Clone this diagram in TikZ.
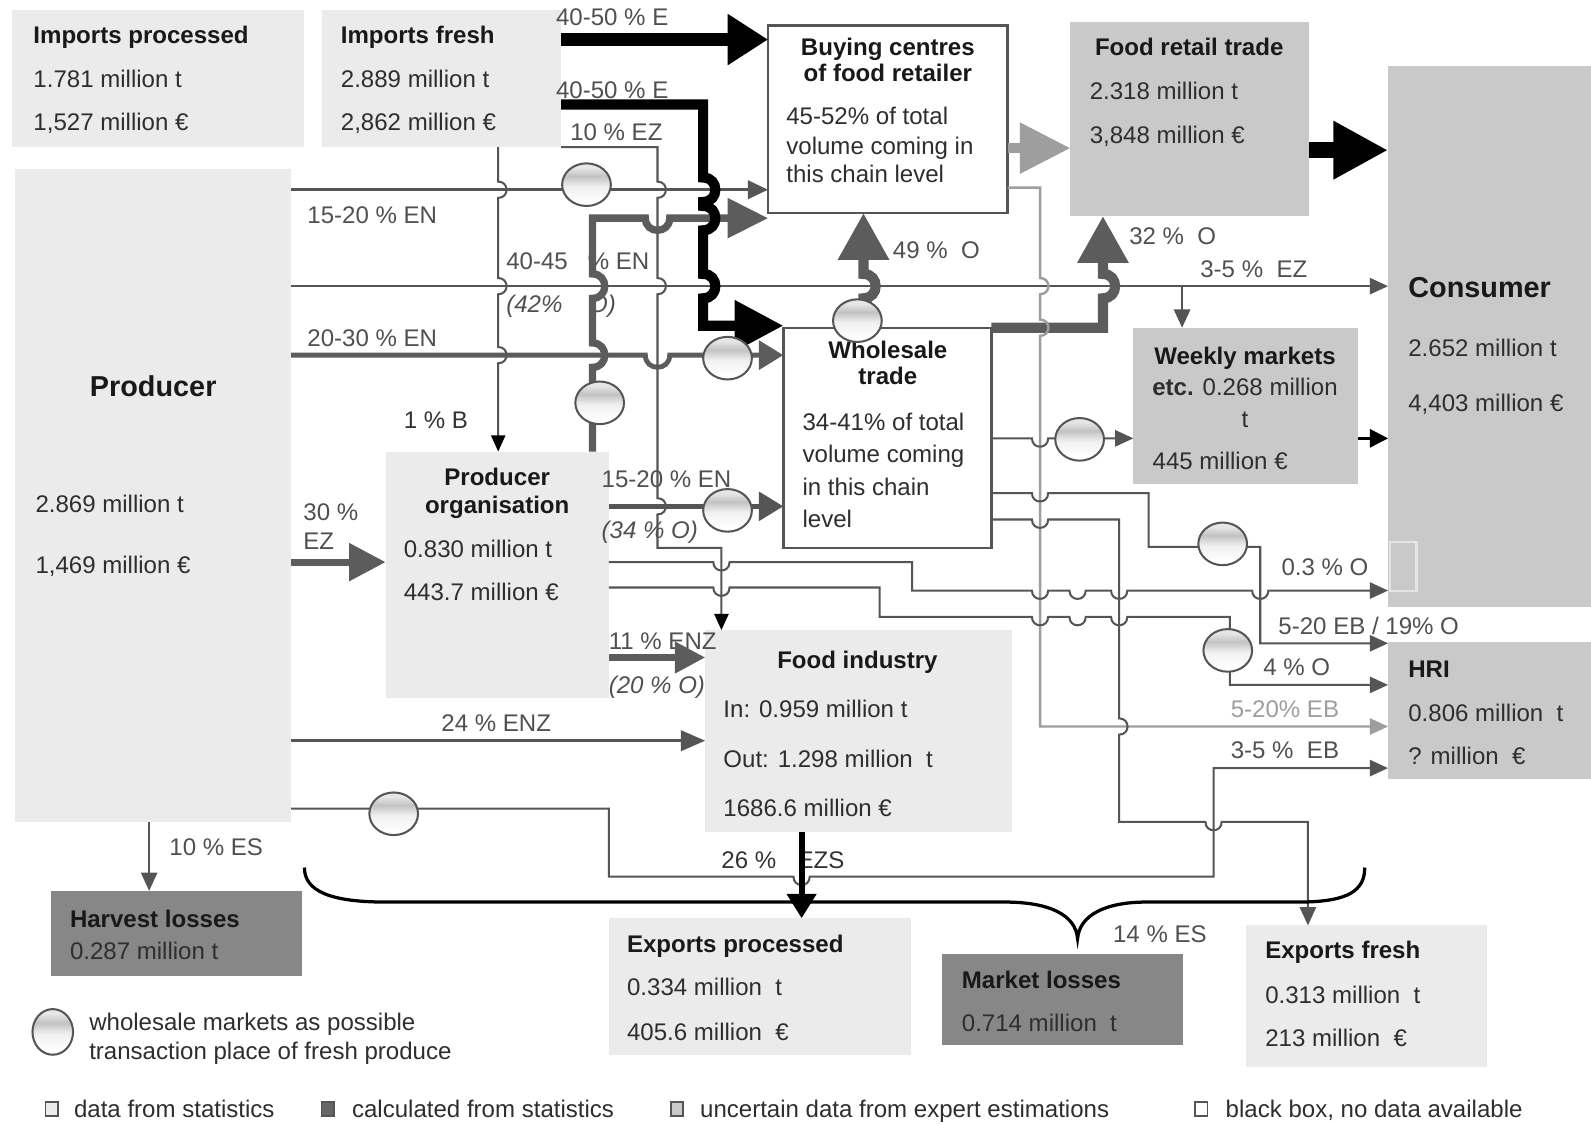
\documentclass[tikz,border=0pt]{standalone}
\usepackage{fontspec}
\setmainfont{Liberation Sans}
\usetikzlibrary{arrows.meta,shapes.geometric}
\definecolor{cLight}{HTML}{EBEBEB}
\definecolor{cMed}{HTML}{C9C9C9}
\definecolor{cDark}{HTML}{878787}
\definecolor{cLine}{HTML}{555555}
\definecolor{cGray}{HTML}{5C5C5C}
\definecolor{cPale}{HTML}{9E9E9E}
\definecolor{cTxt}{HTML}{2E2E2E}
\definecolor{cLab}{HTML}{505050}
\pgfdeclareverticalshading{mktshade}{100bp}{color(0bp)=(white); color(30bp)=(white); color(48bp)=(black!6); color(60bp)=(black!24); color(70bp)=(black!10); color(100bp)=(black!6)}
\newcommand{\fsn}{\fontsize{11.85}{14}\selectfont}
\newcommand{\fsl}{\fontsize{14.2}{17}\selectfont\bfseries}
\begin{document}
\begin{tikzpicture}[x=0.5pt,y=-0.5pt, line join=miter,
  box/.style={rectangle, inner sep=0pt, outer sep=0pt, anchor=north west, draw=none},
  tx/.style={anchor=base west, inner sep=0pt, outer sep=0pt, font=\fsn, text=cTxt},
  tb/.style={tx, font=\fsn\bfseries, text=black!90},
  tcb/.style={tb, anchor=base},
  lab/.style={tx, text=cLab},
  labi/.style={lab, font=\fsn\itshape},
  mkt/.style={ellipse, draw=cLine, line width=1pt, shade, shading=mktshade, minimum width=24pt, minimum height=21pt, inner sep=0pt},
  ln/.style={draw=cLine, line width=1pt},
  ar/.style={-{Triangle[length=9pt,width=8pt]}},
  vh/.style 2 args={insert path={-- (#1,#2-8) .. controls (#1+11,#2-8) and (#1+11,#2+8) .. (#1,#2+8)}},
  vhB/.style 2 args={insert path={-- (#1,#2-12) .. controls (#1+16,#2-12) and (#1+16,#2+12) .. (#1,#2+12)}},
  vuB/.style 2 args={insert path={-- (#1,#2+12) .. controls (#1+16,#2+12) and (#1+16,#2-12) .. (#1,#2-12)}},
  hd/.style 2 args={insert path={-- (#1-8,#2) .. controls (#1-8,#2+11) and (#1+8,#2+11) .. (#1+8,#2)}},
  hdB/.style 2 args={insert path={-- (#1-12,#2) .. controls (#1-12,#2+16) and (#1+12,#2+16) .. (#1+12,#2)}},
]
\useasboundingbox (0,0) rectangle (1568,1107);
\fill[white] (0,0) rectangle (1568,1107);

% ---------- boxes ----------
\node[box, fill=cLight, minimum width=144pt, minimum height=67.5pt] (impproc) at (12,10) {};
\node[box, fill=cLight, minimum width=118pt, minimum height=67.5pt] (impfresh) at (317,10) {};
\node[box, fill=white, draw=cLine, line width=1.2pt, minimum width=118pt, minimum height=92.5pt] (buying) at (757,25) {};
\node[box, fill=cMed, minimum width=117.5pt, minimum height=95.5pt] (retail) at (1055,22) {};
\node[box, fill=cMed, minimum width=100pt, minimum height=266.5pt] (consumer) at (1368,65) {};
\node[box, fill=cLight, minimum width=136pt, minimum height=321.5pt] (producer) at (15,167) {};
\node[box, fill=white, draw=cLine, line width=1.2pt, minimum width=102.5pt, minimum height=108.5pt] (wholesale) at (772,323) {};
\node[box, fill=cMed, minimum width=110.5pt, minimum height=77pt] (weekly) at (1117,323) {};
\node[box, fill=cLight, minimum width=110pt, minimum height=121.5pt] (prodorg) at (380,445) {};
\node[box, fill=cLight, minimum width=151pt, minimum height=99.5pt] (foodind) at (695,621) {};
\node[box, fill=cMed, minimum width=100pt, minimum height=67.5pt] (hri) at (1368,633) {};
\node[box, fill=cDark, minimum width=124pt, minimum height=42pt] (harvest) at (50,878) {};
\node[box, fill=cLight, minimum width=149pt, minimum height=67.5pt] (expproc) at (600,905) {};
\node[box, fill=cDark, minimum width=119pt, minimum height=45pt] (mktloss) at (928,940) {};
\node[box, fill=cLight, minimum width=118.5pt, minimum height=70pt] (expfresh) at (1228,912) {};
\draw[white!90!black, line width=1pt] (1370,534) rectangle (1396,582);

% ---------- box texts ----------
\node[tb] (t1) at (33,43) {Imports processed};
\node[tx] (t2) at (33,86) {1.781 million t};
\node[tx] (t3) at (33,129) {1,527 million €};
\node[tb] (t4) at (336,43) {Imports fresh};
\node[tx] (t5) at (336,86) {2.889 million t};
\node[tx] (t6) at (336,129) {2,862 million €};
\node[tcb] (t7) at (875,55) {Buying centres};
\node[tcb] (t8) at (875,80) {of food retailer};
\node[tx] (t9) at (775,123) {45-52\% of total};
\node[tx] (t10) at (775,152) {volume coming in};
\node[tx] (t11) at (775,180) {this chain level};
\node[tcb] (t12) at (1172,55) {Food retail trade};
\node[tx] (t13) at (1074,98) {2.318 million t};
\node[tx] (t14) at (1074,141) {3,848 million €};
\node[tx, font=\fsl, text=black!90] (t15) at (1388,293) {Consumer};
\node[tx] (t16) at (1388,351) {2.652 million t};
\node[tx] (t17) at (1388,406) {4,403 million €};
\node[tx, font=\fsl, text=black!90, anchor=base] (t18) at (151,391) {Producer};
\node[tx] (t19) at (35,505) {2.869 million t};
\node[tx] (t20) at (35,565) {1,469 million €};
\node[tcb] (t21) at (875,353) {Wholesale};
\node[tcb] (t22) at (875,379) {trade};
\node[tx] (t23) at (791,424) {34-41\% of total};
\node[tx] (t24) at (791,456) {volume coming};
\node[tx] (t25) at (791,488) {in this chain};
\node[tx] (t26) at (791,520) {level};
\node[tcb] (t27) at (1227,359) {Weekly markets};
\node[tx, anchor=base] (t28) at (1227,390) {\textbf{etc.} 0.268 million};
\node[tx, anchor=base] (t29) at (1227,421) {t};
\node[tx] (t30) at (1136,463) {445 million €};
\node[tcb] (t31) at (490,478) {Producer};
\node[tcb] (t32) at (490,506) {organisation};
\node[tx] (t33) at (398,549) {0.830 million t};
\node[tx] (t34) at (398,592) {443.7 million €};
\node[tcb] (t35) at (845,659) {Food industry};
\node[tx] (t36) at (713,707) {In: 0.959 million t};
\node[tx] (t37) at (713,756) {Out: 1.298 million\ \ t};
\node[tx] (t38) at (713,805) {1686.6 million €};
\node[tb] (t39) at (1388,668) {HRI};
\node[tx] (t40) at (1388,711) {0.806 million\ \ t};
\node[tx] (t41) at (1388,753) {? million\ \ €};
\node[tb] (t42) at (69,914) {Harvest losses};
\node[tx] (t43) at (69,946) {0.287 million t};
\node[tb] (t44) at (618,939) {Exports processed};
\node[tx] (t45) at (618,981) {0.334 million\ \ t};
\node[tx] (t46) at (618,1025) {405.6 million\ \ €};
\node[tb] (t47) at (948,974) {Market losses};
\node[tx] (t48) at (948,1017) {0.714 million\ \ t};
\node[tb] (t49) at (1247,945) {Exports fresh};
\node[tx] (t50) at (1247,989) {0.313 million\ \ t};
\node[tx] (t51) at (1247,1031) {213 million\ \ €};

% ---------- flow labels ----------
\node[lab] (l1) at (548,25) {40-50 \% E};
\node[lab] (l2) at (548,97) {40-50 \% E};
\node[lab] (l3) at (562,138) {10 \% EZ};
\node[lab] (l4) at (303,220) {15-20 \% EN};
\node[lab] (l5) at (499,266) {40-45\ \ \ \% EN};
\node[labi] (l6) at (499,308) {(42\%\ \ \ \ O)};
\node[lab] (l7) at (303,341) {20-30 \% EN};
\node[tx, text=black!80] (l8) at (398,422) {1 \% B};
\node[lab] (l9) at (299,513) {30 \%};
\node[lab] (l10) at (299,542) {EZ};
\node[lab] (l11) at (593,480) {15-20 \% EN};
\node[labi] (l12) at (593,531) {(34 \% O)};
\node[lab] (l13) at (600,640) {11 \% ENZ};
\node[labi] (l14) at (600,683) {(20 \% O)};
\node[lab] (l15) at (435,721) {24 \% ENZ};
\node[lab] (l16) at (167,843) {10 \% ES};
\node[lab, text=black!80] (l17) at (711,856) {26 \%};
\node[lab, text=black!80] (l18) at (786,856) {EZS};
\node[lab] (l19) at (1097,929) {14 \% ES};
\node[lab] (l20) at (880,255) {49 \%\ \ O};
\node[lab] (l21) at (1113,241) {32 \%\ \ O};
\node[lab] (l22) at (1183,273) {3-5 \%\ \ EZ};
\node[lab] (l23) at (1263,567) {0.3 \% O};
\node[lab] (l24) at (1260,625) {5-20 EB / 19\% O};
\node[lab] (l25) at (1245,666) {4 \% O};
\node[lab, text=cPale] (l26) at (1213,707) {5-20\% EB};
\node[lab] (l27) at (1213,748) {3-5 \%\ \ EB};

% ---------- connectors ----------
% imports fresh -> buying centres
\draw[line width=6pt, black, -{Triangle[length=20pt,width=24pt]}] (impfresh.east |- 0,39) -- (buying.west |- 0,39);
% producer -> buying centres (15-20 % EN)
\draw[draw=cLine, line width=1.6pt, -{Triangle[length=10pt,width=9pt]}] (producer.east |- 0,187) -- (buying.west |- 0,187);
% producer -> consumer (40-45 % EN)
\draw[ln, ar] (producer.east |- 0,282) -- (consumer.west |- 0,282);
\coordinate (ebr) at (1165,282);
\draw[ln, -{Triangle[length=9pt,width=8pt]}] (ebr) -- (ebr |- weekly.north);
% producer -> wholesale (20-30 % EN)
\draw[draw=cGray, line width=2.4pt, -{Triangle[length=12pt,width=14pt]}] (producer.east |- 0,350) [hdB={648}{350}] -- (wholesale.west |- 0,350);
% imports fresh -> producer organisation (1 % B)
\draw[ln, -{Triangle[length=8pt,width=7pt,color=black]}] (491,0 |- impfresh.south) [vh={491}{187}] [vh={491}{282}] [vh={491}{350}] -- (491,0 |- prodorg.north);
% imports fresh -> food industry (10 % EZ)
\draw[ln, -{Triangle[length=8pt,width=7pt,color=black]}] (impfresh.south east) -- (648,145) [vh={648}{187}] [vh={648}{282}] [vh={648}{499}] -- (648,540) -- (711,540) -- (711,0 |- foodind.north);
% producer organisation -> buying centres (thick gray)
\draw[draw=cGray, line width=3.6pt, -{Triangle[length=20pt,width=19pt]}] (584,0 |- prodorg.north) [vuB={584}{350}] [vuB={584}{282}] -- (584,215) [hdB={648}{215}] -- (buying.west |- 0,215);
% imports fresh -> wholesale (40-50 % E)
\draw[line width=5pt, black, -{Triangle[length=24pt,width=24pt]}] (impfresh.east |- 0,103) -- (693,103) [vhB={693}{187}] [vhB={693}{215}] [vhB={693}{282}] -- (693,321) -- (wholesale.west |- 0,321);
% wholesale -> buying centres (49 % O)
\draw[draw=cGray, line width=5pt, -{Triangle[length=23pt,width=24pt]}] (851,0 |- wholesale.north) [vuB={851}{282}] -- (851,0 |- buying.south);
% wholesale -> food retail (32 % O)
\draw[draw=cGray, line width=5pt, -{Triangle[length=23pt,width=24pt]}] (wholesale.north east) -- (1087,323) [vuB={1087}{282}] -- (1087,0 |- retail.south);
% buying -> retail
\draw[draw=cPale, line width=5pt, -{Triangle[length=25pt,width=24pt]}] (buying.east |- 0,146) -- (retail.west |- 0,146);
% retail -> consumer
\draw[line width=8pt, black, -{Triangle[length=27pt,width=27pt]}] (retail.east |- 0,148) -- (consumer.west |- 0,148);
% buying -> HRI (5-20% EB)
\draw[draw=cPale, line width=1.2pt, -{Triangle[length=9pt,width=8pt]}] (buying.east |- 0,185) -- (1025,185) [vh={1025}{282}] [vh={1025}{323}] -- (1025,716) -- (hri.west |- 0,716);
% wholesale -> weekly markets
\draw[ln, ar] (wholesale.east |- 0,432) [hd={1025}{432}] -- (weekly.west |- 0,432);
% weekly -> consumer
\draw[line width=1.2pt, black, -{Triangle[length=9pt,width=9pt]}] (weekly.east |- 0,432) -- (consumer.west |- 0,432);
% wholesale -> HRI (5-20 EB / 19% O)
\draw[ln, ar] (wholesale.east |- 0,486) [hd={1025}{486}] -- (1132,486) -- (1132,539) -- (1242,539) -- (1242,634) -- (hri.west |- 0,634);
% wholesale -> exports fresh
\draw[ln, ar] (wholesale.east |- 0,512) [hd={1025}{512}] -- (1103,512) [vh={1103}{716}] -- (1103,810) [hd={1196}{810}] -- (1289,810) -- (1289,0 |- expfresh.north);
% producer organisation -> consumer (0.3 % O)
\draw[ln, ar] (prodorg.east |- 0,554) [hd={711}{554}] -- (899,554) -- (899,582) [hd={1025}{582}] [hd={1062}{582}] [hd={1103}{582}] [hd={1242}{582}] -- (consumer.west |- 0,582);
% producer organisation -> HRI (4 % O)
\draw[ln, ar] (prodorg.east |- 0,579) [hd={711}{579}] -- (867,579) -- (867,608) [hd={1025}{608}] [hd={1062}{608}] [hd={1103}{608}] -- (1212,608) -- (1212,675) -- (hri.west |- 0,675);
% producer organisation -> wholesale (15-20 % EN)
\draw[draw=cLine, line width=2.2pt, -{Triangle[length=12pt,width=14pt]}] (prodorg.east |- 0,499) -- (wholesale.west |- 0,499);
% producer -> producer organisation (30 % EZ)
\draw[draw=cGray, line width=3.5pt, -{Triangle[length=18pt,width=18pt]}] (producer.east |- 0,554) -- (prodorg.west |- 0,554);
% producer organisation -> food industry (11 % ENZ)
\draw[draw=cGray, line width=3.2pt, -{Triangle[length=15pt,width=15pt]}] (prodorg.east |- 0,648) -- (foodind.west |- 0,648);
% producer -> food industry (24 % ENZ)
\draw[draw=cLine, line width=1.6pt, -{Triangle[length=12pt,width=10pt]}] (producer.east |- 0,730) -- (foodind.west |- 0,730);
% producer -> harvest losses
\draw[ln, ar] (147,0 |- producer.south) -- (147,0 |- harvest.north);
% producer -> HRI (3-5 % EB)
\draw[ln, ar] (producer.east |- 0,797) -- (600,797) -- (600,864) [hd={790}{864}] -- (1196,864) -- (1196,757) -- (hri.west |- 0,757);
% food industry -> exports processed
\draw[line width=3pt, black, -{Triangle[length=12pt,width=14pt]}] (790,0 |- foodind.south) -- (790,0 |- expproc.north);
% brace towards market losses
\coordinate (bL) at (300,855);
\coordinate (bM) at (1062,925);
\coordinate (bR) at (1345,855);
\draw[line width=1.6pt, black] (bL) .. controls (300,878) and (325,889) .. (380,889) -- (990,889) .. controls (1035,889) and (1060,902) .. (bM) .. controls (1064,902) and (1089,889) .. (1130,889) -- (1280,889) .. controls (1330,889) and (1345,877) .. (bR);

% ---------- wholesale market circles ----------
\node[mkt] (m1) at (578,182) {};
\node[mkt] (m2) at (845,316) {};
\node[mkt] (m3) at (717,353) {};
\node[mkt] (m4) at (591,397) {};
\node[mkt] (m5) at (717,503) {};
\node[mkt] (m6) at (1064,433) {};
\node[mkt] (m7) at (1205,536) {};
\node[mkt] (m8) at (1210,641) {};
\node[mkt] (m9) at (388,802) {};

% ---------- legend ----------
\node[mkt, minimum width=20pt, minimum height=22.5pt] (m10) at (52,1017) {};
\node[tx] (g1) at (88,1016) {wholesale markets as possible};
\node[tx] (g2) at (88,1044) {transaction place of fresh produce};
\node[box, draw=cLine, line width=0.8pt, fill=cLight, minimum width=6pt, minimum height=7pt] (sq1) at (45,1086) {};
\node[box, draw=cLine, line width=0.8pt, fill=black!60, minimum width=6pt, minimum height=7pt] (sq2) at (317,1086) {};
\node[box, draw=cLine, line width=0.8pt, fill=cMed, minimum width=6pt, minimum height=7pt] (sq3) at (661,1086) {};
\node[box, draw=cLine, line width=0.8pt, fill=white, minimum width=6pt, minimum height=7pt] (sq4) at (1178,1086) {};
\node[tx] (g3) at (73,1101) {data from statistics};
\node[tx] (g4) at (347,1101) {calculated from statistics};
\node[tx] (g5) at (690,1101) {uncertain data from expert estimations};
\node[tx] (g6) at (1208,1101) {black box, no data available};
\end{tikzpicture}
\end{document}
